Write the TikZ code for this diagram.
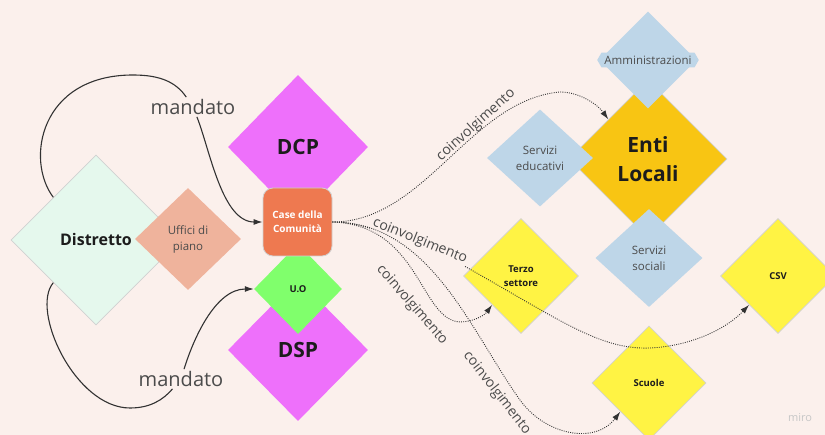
\documentclass[tikz,border=0pt]{standalone}
\usepackage{fontspec}
\setmainfont{Open Sans}
\definecolor{sfondo}{RGB}{251,240,236}
\definecolor{menta}{RGB}{229,248,237}
\definecolor{salmone}{RGB}{239,179,156}
\definecolor{viola}{RGB}{238,112,251}
\definecolor{arancio}{RGB}{238,121,80}
\definecolor{verde}{RGB}{128,255,108}
\definecolor{celeste}{RGB}{190,214,232}
\definecolor{oro}{RGB}{248,197,19}
\definecolor{giallo}{RGB}{255,243,68}
\definecolor{testo}{RGB}{28,28,28}
\definecolor{grigio}{RGB}{75,75,75}
\definecolor{linea}{RGB}{50,50,50}
\usetikzlibrary{arrows.meta,shapes.geometric,shapes.symbols}

\begin{document}
\begin{tikzpicture}[x=1pt,y=-1pt,
  rombo/.style={diamond,aspect=1,inner sep=0pt,align=center},
  bordo/.style={draw=black!18,line width=0.8pt},
  nomegrande/.style={font=\bfseries\fontsize{21}{29}\selectfont,text=testo},
  nomepiccolo/.style={font=\bfseries\fontsize{9.5}{14}\selectfont,text=testo},
  servizio/.style={font=\fontsize{11.5}{16}\selectfont,text=grigio},
  mandlbl/.style={font=\fontsize{20}{24}\selectfont,text=grigio,inner sep=2pt},
  coinvlbl/.style={font=\fontsize{14}{16}\selectfont,text=grigio,inner sep=1pt},
  mand/.style={draw=linea,line width=1.1pt,-{Latex[length=9pt,width=6pt]}},
  coinv/.style={draw=linea,line width=0.9pt,dash pattern=on 0.9pt off 1.3pt,
    -{Latex[length=9pt,width=6pt]}}
]
  \clip (0,0) rectangle (825,435);
  \fill[sfondo] (0,0) rectangle (825,435);

  % Distretto
  \node[rombo,bordo,fill=menta,minimum width=170,minimum height=170,
    font=\bfseries\fontsize{16}{19}\selectfont,text=testo] (distretto) at (96,240) {Distretto};
  \node[rombo,fill=salmone,minimum width=106,minimum height=102,servizio] (uffici) at (188,239) {Uffici di\\piano};

  % DCP / DSP
  \node[rombo,fill=viola,minimum width=140,minimum height=144,nomegrande] (dcp) at (298,147) {DCP};
  \node[rombo,fill=viola,minimum width=140,minimum height=142,nomegrande] (dsp) at (298,350) {DSP};
  \node[rombo,fill=verde,minimum width=88,minimum height=90,nomepiccolo] (uo) at (298,289) {U.O};
  \node[rectangle,rounded corners=10pt,bordo,fill=arancio,minimum width=69,minimum height=68,
    align=center,text=white,font=\bfseries\fontsize{10}{14}\selectfont] (case) at (297.5,222) {Case della\\Comunità};

  % Enti Locali
  \node[rombo,bordo,fill=oro,minimum width=158,minimum height=158,nomegrande] (enti) at (648,159) {Enti\\Locali};
  \node[rombo,fill=celeste,minimum width=97,minimum height=97] (ammin) at (648,60) {};
  \node[signal,signal to=west and east,signal pointer angle=120,fill=celeste,
    inner xsep=3pt,inner ysep=3pt,servizio] (amminlbl) at (648,60) {Amministrazioni};
  \node[rombo,fill=celeste,minimum width=106,minimum height=97,servizio] (educ) at (540,158) {Servizi\\educativi};
  \node[rombo,fill=celeste,minimum width=107,minimum height=98,servizio] (sociali) at (649,258) {Servizi\\sociali};

  % partner
  \node[rombo,bordo,fill=giallo,minimum width=115,minimum height=115,nomepiccolo] (terzo) at (521,276) {Terzo\\settore};
  \node[rombo,bordo,fill=giallo,minimum width=115,minimum height=115,nomepiccolo] (csv) at (778,276) {CSV};
  \node[rombo,bordo,fill=giallo,minimum width=114,minimum height=114,nomepiccolo] (scuole) at (649,383) {Scuole};

  % etichette
  \node[mandlbl] (mandTop) at (193,107) {mandato};
  \node[mandlbl] (mandBot) at (181,379) {mandato};
  \node[coinvlbl,rotate=42] (coinvEnti) at (476,125) {coinvolgimento};
  \node[coinvlbl,rotate=-22] (coinvCsv) at (420,241) {coinvolgimento};
  \node[coinvlbl,rotate=-49] (coinvTerzo) at (412,305) {coinvolgimento};
  \node[coinvlbl,rotate=-52] (coinvScuole) at (497,393) {coinvolgimento};
  \node[text=black!22,font=\fontsize{11}{13}\selectfont] (miro) at (800,418) {miro};

  % mandato
  \draw[mand,-] (distretto.north west) .. controls (25,160) and (40,75) .. (133,75)
    .. controls (160,75) and (176,82) .. (mandTop);
  \draw[mand] (mandTop) .. controls (210,150) and (222,222) .. (case.west);
  \draw[mand,-] (distretto.south west) .. controls (30,310) and (75,408) .. (130,408)
    .. controls (150,408) and (163,400) .. (mandBot);
  \draw[mand] (mandBot) .. controls (193,340) and (215,289) .. (uo.west);

  % coinvolgimento
  \draw[coinv] (case.east) .. controls (425,222) and (470,100) .. (560,92)
    .. controls (580,92) and (598,105) .. (enti.north west);
  \draw[coinv,-] (case.east) .. controls (350,222) and (362,226) .. (coinvCsv);
  \draw[coinv] (coinvCsv) .. controls (560,320) and (600,350) .. (650,348)
    .. controls (690,346) and (725,330) .. (csv.south west);
  \draw[coinv] (case.east) .. controls (420,225) and (420,320) .. (460,322)
    .. controls (472,322) and (484,316) .. (terzo.south west);
  \draw[coinv] (case.east) .. controls (430,222) and (470,330) .. (520,400)
    .. controls (545,435) and (595,445) .. (scuole.south west);
\end{tikzpicture}
\end{document}
